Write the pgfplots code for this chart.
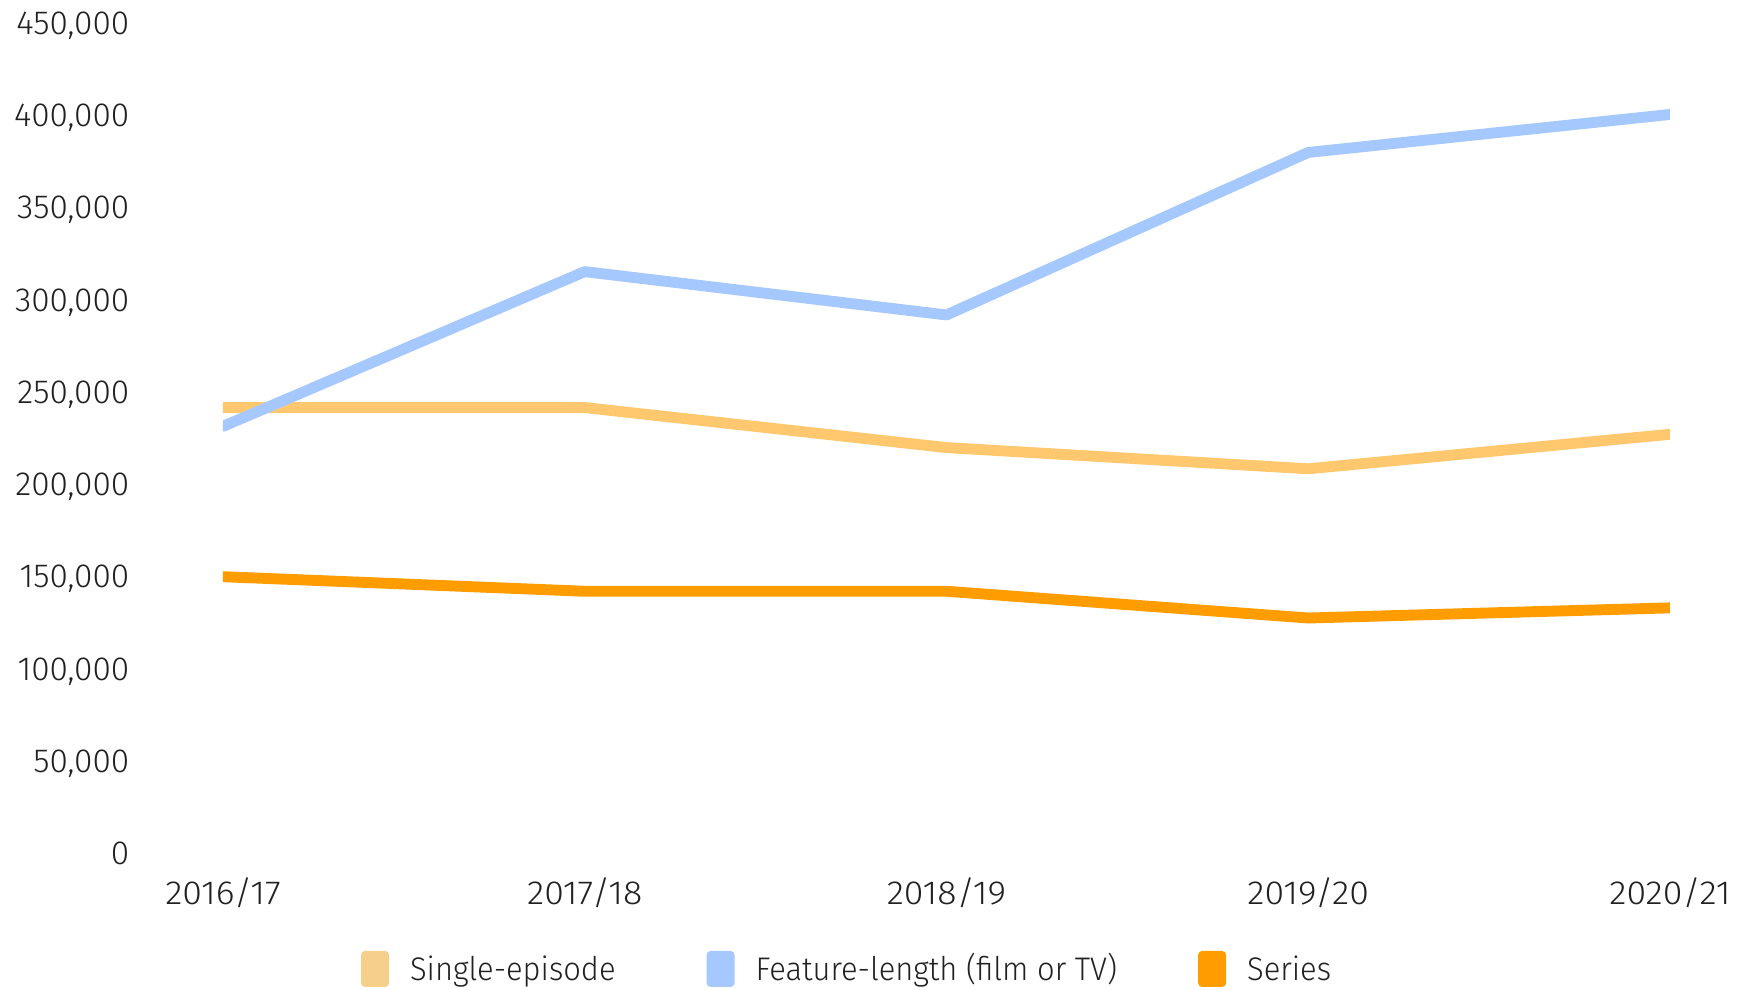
\documentclass[border=0pt]{standalone}
\usepackage{fontspec}
\setmainfont{Fira Sans Light}
\newfontfamily\ytickfont{Fira Sans Light}[FakeStretch=1.0]
\newfontfamily\xtickfont{Fira Sans Light}[FakeStretch=1.07]
\newfontfamily\legfont{Fira Sans Light}[FakeStretch=0.945]
\usepackage{pgfplots}
\pgfplotsset{compat=1.18}

\definecolor{single}{HTML}{FFC86E}
\definecolor{singlekey}{HTML}{F6CF8B}
\definecolor{feature}{HTML}{A5C8FF}
\definecolor{series}{HTML}{FF9C00}
\definecolor{txt}{HTML}{212121}

\begin{document}
\begin{tikzpicture}
\useasboundingbox (-2.23,-1.37) rectangle (15.23,8.53);
\begin{axis}[
    at={(0,0)}, anchor=south west,
    scale only axis,
    width=14.47cm, height=8.30cm,
    xmin=0, xmax=4,
    ymin=0, ymax=450000,
    axis line style={draw=none},
    major tick length=0pt,
    xtick={0,1,2,3,4},
    xticklabels={2016/17,2017/18,2018/19,2019/20,2020/21},
    ytick={0,50000,100000,150000,200000,250000,300000,350000,400000,450000},
    scaled y ticks=false,
    yticklabel={\pgfmathprintnumber[fixed,precision=0,1000 sep={,},assume math mode=true]{\tick}},
    tick label style={text=txt},
    xticklabel style={font=\xtickfont\fontsize{9.5}{11}\selectfont, anchor=base, inner sep=0pt, yshift=-5.1mm},
    yticklabel style={font=\ytickfont\fontsize{9.5}{11}\selectfont, anchor=base east, inner sep=0pt, xshift=-9.3mm, yshift=-1.15mm},
    every axis plot/.append style={line width=3.1pt, line cap=round, line join=round},
    legend columns=3,
    legend style={at={(0.0954,-0.118)}, anchor=north west, draw=none, fill=none,
        inner sep=0pt, outer sep=0pt, font=\legfont\fontsize{9.3}{11}\selectfont, text=txt,
        nodes={inner sep=0pt, anchor=base west},
        /tikz/every odd column/.style={column sep=2.1mm},
        /tikz/column 2/.style={column sep=9.1mm},
        /tikz/column 4/.style={column sep=8.1mm}},
    legend image code/.code={\fill[#1, draw=none, rounded corners=0.4mm] (0mm,-0.67mm) rectangle (2.8mm,2.93mm);},
]
% Single-episode
\addplot[color=single, forget plot] coordinates {
    (0,241500) (1,241500) (2,219800) (3,208300) (4,227000)
};
% Feature-length (film or TV)
\addplot[color=feature, forget plot] coordinates {
    (0,231300) (1,315200) (2,291700) (3,379800) (4,400400)
};
% Series
\addplot[color=series, forget plot] coordinates {
    (0,149800) (1,141900) (2,141900) (3,127400) (4,132900)
};
\addlegendimage{color=singlekey}
\addlegendentry{Single-episode}
\addlegendimage{color=feature}
\addlegendentry{Feature-length (film or TV)}
\addlegendimage{color=series}
\addlegendentry{Series}
\end{axis}
\end{tikzpicture}
\end{document}
